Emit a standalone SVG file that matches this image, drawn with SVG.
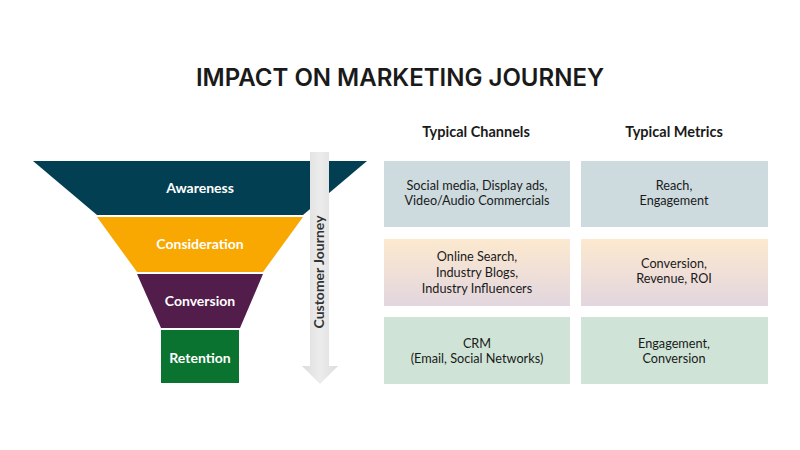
<svg xmlns="http://www.w3.org/2000/svg" width="800" height="450" viewBox="0 0 800 450">
<defs>
<linearGradient id="g2" x1="0" y1="0" x2="0" y2="1">
<stop offset="0" stop-color="#fde9cf"/>
<stop offset="1" stop-color="#e2d6df"/>
</linearGradient>
<linearGradient id="ga" x1="0" y1="0" x2="1" y2="0">
<stop offset="0" stop-color="#dcdcdc"/>
<stop offset="0.5" stop-color="#ececec"/>
<stop offset="1" stop-color="#dcdcdc"/>
</linearGradient>
<style>
.title{font-family:"Inter","Liberation Sans",sans-serif;font-weight:600;font-size:24px;fill:#1a1a1a;text-anchor:middle}
.stage{font-family:"Lato","Open Sans",sans-serif;font-weight:700;font-size:14px;fill:#ffffff;text-anchor:middle}
.hdr{font-family:"Lato","Open Sans",sans-serif;font-weight:700;font-size:14.5px;fill:#1a1a1a;text-anchor:middle}
.cell{font-family:"Lato","Open Sans",sans-serif;font-size:12.7px;fill:#1a1a1a;text-anchor:middle}
.cj{font-family:"Lato","Open Sans",sans-serif;font-weight:700;font-size:14px;fill:#333333;text-anchor:middle}
</style>
</defs>
<rect width="800" height="450" fill="#ffffff"/>
<text class="title" x="400" y="86">IMPACT ON MARKETING JOURNEY</text>

<g id="awareness">
<polygon points="33,161 367,161 303,215 97,215" fill="#033f53"/>
<text class="stage" x="200" y="193">Awareness</text>
</g>
<g id="consideration">
<polygon points="97,217 303,217 263,272 137,272" fill="#f8a800"/>
<text class="stage" x="200" y="249">Consideration</text>
</g>
<g id="conversion">
<polygon points="137,274 263,274 240,328 161,328" fill="#521c4b"/>
<text class="stage" x="200" y="306">Conversion</text>
</g>
<g id="retention">
<rect x="161" y="330" width="78" height="53" fill="#0b7330"/>
<text class="stage" x="200" y="363">Retention</text>
</g>

<g id="connectors">
<polygon points="310,152 329,152 329,366 338,366 320,384 302,366 310,366" fill="url(#ga)"/>
</g>
<text class="cj" transform="translate(324,272) rotate(-90)">Customer Journey</text>

<text class="hdr" x="476" y="137">Typical Channels</text>
<text class="hdr" x="674" y="137">Typical Metrics</text>

<g id="ch1">
<rect x="384" y="161" width="186" height="66" fill="#cddbdf"/>
<text class="cell" x="477" y="190">Social media, Display ads,</text>
<text class="cell" x="477" y="205">Video/Audio Commercials</text>
</g>
<g id="me1">
<rect x="581" y="161" width="187" height="66" fill="#cddbdf"/>
<text class="cell" x="674" y="190">Reach,</text>
<text class="cell" x="674" y="205">Engagement</text>
</g>
<g id="ch2">
<rect x="384" y="239" width="186" height="67" fill="url(#g2)"/>
<text class="cell" x="477" y="261">Online Search,</text>
<text class="cell" x="477" y="277">Industry Blogs,</text>
<text class="cell" x="477" y="293">Industry Influencers</text>
</g>
<g id="me2">
<rect x="581" y="239" width="187" height="67" fill="url(#g2)"/>
<text class="cell" x="674" y="267.5">Conversion,</text>
<text class="cell" x="674" y="283">Revenue, ROI</text>
</g>
<g id="ch3">
<rect x="384" y="317" width="186" height="67" fill="#cfe4d6"/>
<text class="cell" x="477" y="347.5">CRM</text>
<text class="cell" x="477" y="363">(Email, Social Networks)</text>
</g>
<g id="me3">
<rect x="581" y="317" width="187" height="67" fill="#cfe4d6"/>
<text class="cell" x="674" y="347.5">Engagement,</text>
<text class="cell" x="674" y="363">Conversion</text>
</g>
</svg>
